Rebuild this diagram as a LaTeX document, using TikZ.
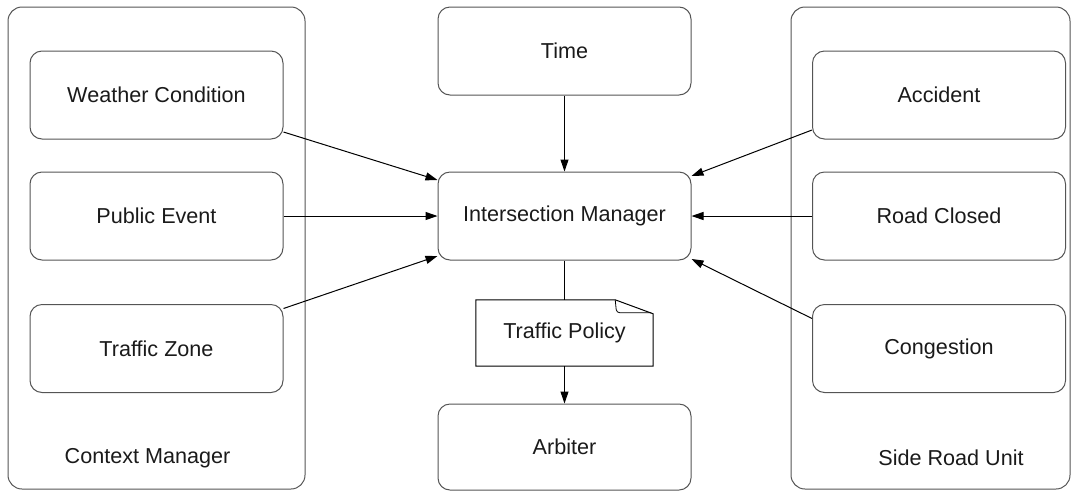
\documentclass[tikz,border=0pt]{standalone}
\usepackage{fontspec}
\setmainfont{Liberation Sans}
\usetikzlibrary{arrows.meta}
\definecolor{edge}{HTML}{555555}
\definecolor{txt}{HTML}{1A1A1A}
\tikzset{
  box/.style={draw=edge, line width=1pt, rounded corners=12pt, minimum width=253pt, minimum height=88pt, inner sep=0pt, text=txt, font=\fontsize{21.6}{26}\selectfont},
  container/.style={draw=edge, line width=1pt, rounded corners=14pt, inner sep=0pt},
  lbl/.style={text=txt, font=\fontsize{21.6}{26}\selectfont, inner sep=0pt},
  conn/.style={draw=black, line width=1pt, -{Triangle[length=12pt,width=8pt]}},
  plain/.style={draw=black, line width=1pt},
}
\begin{document}
\begin{tikzpicture}[x=1pt,y=-1pt]
\useasboundingbox (0,0) rectangle (1078,491);
% containers
\node[container, minimum width=297pt, minimum height=482pt] (cm) at (156.5,248) {};
\node[container, minimum width=279pt, minimum height=482pt] (sru) at (930.5,248) {};
\node[lbl] (cmlbl) at (147.5,458) {Context Manager};
\node[lbl] (srulbl) at (951,458) {Side Road Unit};
% left boxes
\node[box] (wc) at (156.5,95) {Weather Condition};
\node[box] (pe) at (156.5,216) {Public Event};
\node[box] (tz) at (156.5,348.5) {Traffic Zone};
% center boxes
\node[box] (time) at (564.5,51) {Time};
\node[box] (im) at (564.5,216) {Intersection Manager};
\node[box, minimum height=86pt] (arb) at (564.5,447) {Arbiter};
% right boxes
\node[box] (acc) at (939,95) {Accident};
\node[box] (rc) at (939,216) {Road Closed};
\node[box] (cg) at (939,348.5) {Congestion};
% document
\node[lbl, minimum width=177pt, minimum height=66pt] (tp) at (564.5,333) {Traffic Policy};
\draw[draw=black, line width=1pt] (tp.north west) -- ([xshift=-38pt]tp.north east) -- ([yshift=-14pt]tp.north east) -- (tp.south east) -- (tp.south west) -- cycle;
\draw[draw=black, line width=0.8pt] ([xshift=-38pt]tp.north east) -- ([xshift=-37pt,yshift=-10pt]tp.north east) to[out=-80,in=180] ([xshift=-33pt,yshift=-13pt]tp.north east) -- ([xshift=-2pt,yshift=-13pt]tp.north east);
% connectors
\draw[conn] ([yshift=-37pt]wc.east) -- ([yshift=36pt]im.west);
\draw[conn] (pe.east) -- (im.west);
\draw[conn] ([yshift=40pt]tz.east) -- ([yshift=-40pt]im.west);
\draw[conn] ([yshift=-35pt]acc.west) -- ([yshift=40pt]im.east);
\draw[conn] (rc.west) -- (im.east);
\draw[conn] ([yshift=30pt]cg.west) -- ([yshift=-43pt]im.east);
\draw[conn] (time.south) -- (im.north);
\draw[plain] (im.south) -- (tp.north);
\draw[conn] (tp.south) -- (arb.north);
\end{tikzpicture}
\end{document}
